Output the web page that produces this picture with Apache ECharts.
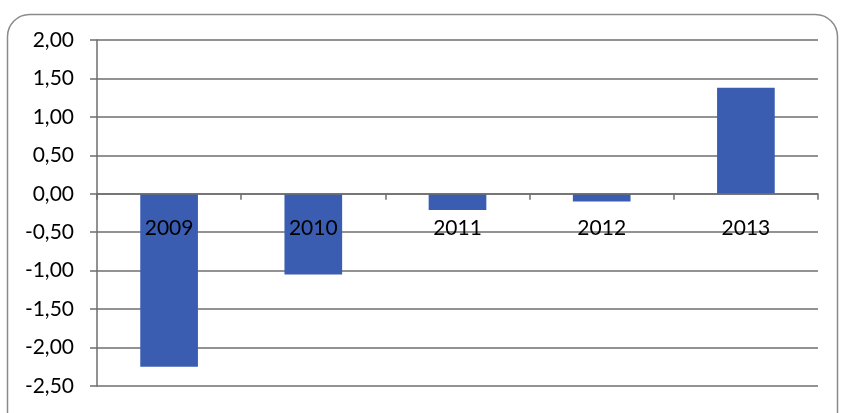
<!DOCTYPE html>
<html><head><meta charset="utf-8">
<script src="https://cdn.jsdelivr.net/npm/echarts@6/dist/echarts.min.js"></script>
<style>html,body{margin:0;padding:0;background:#fff}#c{width:841px;height:413px}</style>
</head><body><div id="c"></div>
<script>
const categories = ['2009','2010','2011','2012','2013'];
const values = [-2.25, -1.05, -0.21, -0.10, 1.38];
const yMin = -2.5, yMax = 2.0, yStep = 0.5;

const gridTop = 40, gridBottom = 27, H = 413;
const plotH = H - gridTop - gridBottom;
const zeroFromBottom = plotH * (0 - yMin) / (yMax - yMin);

const chart = echarts.init(document.getElementById('c'));
const fmt = v => v.toFixed(2).replace('.', ',');
chart.setOption({
  animation: false,
  backgroundColor: '#ffffff',
  graphic: [{
    type: 'rect', left: 5, top: 12, z: -10,
    shape: { width: 830, height: 420, r: 22 },
    style: { fill: 'none', stroke: '#8a8a8a', lineWidth: 1.5 }
  }],
  grid: { left: 97, right: 23, top: gridTop, bottom: gridBottom, outerBoundsMode: 'none', containLabel: false },
  xAxis: {
    type: 'category', data: categories, z: 10, position: 'bottom',
    offset: -zeroFromBottom,
    axisLine: { onZero: false, lineStyle: { color: '#6e6e6e', width: 1.5 } },
    axisTick: { show: true, length: 6, lineStyle: { color: '#6e6e6e', width: 1.5 } },
    axisLabel: { color: '#000', fontSize: 21, fontFamily: 'Lato', margin: 24 },
    splitLine: { show: false }
  },
  yAxis: {
    type: 'value', min: yMin, max: yMax, interval: yStep,
    axisLine: { show: true, lineStyle: { color: '#6e6e6e', width: 1.5 } },
    axisTick: { show: true, length: 7, lineStyle: { color: '#6e6e6e', width: 1.5 } },
    axisLabel: { color: '#000', fontSize: 21, fontFamily: 'Lato', margin: 23, formatter: fmt },
    splitLine: { show: true, lineStyle: { color: '#6e6e6e', width: 1.5 } }
  },
  series: [{
    type: 'bar', data: values, barWidth: '40%',
    itemStyle: { color: '#3a5db2' }
  }]
});
</script></body></html>
